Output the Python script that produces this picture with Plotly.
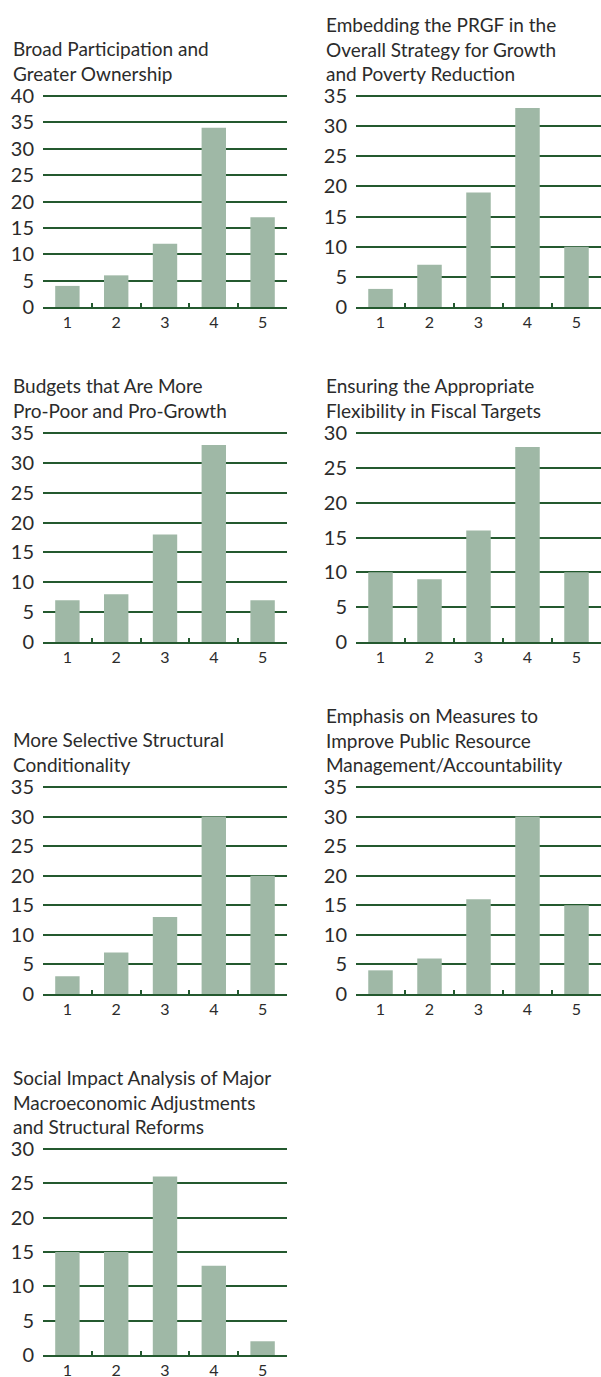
import plotly.graph_objects as go

W, H = 601, 1377

# ---- data ----
categories = ["1", "2", "3", "4", "5"]

titles = [
    ["Broad Participation and", "Greater Ownership"],
    ["Embedding the PRGF in the", "Overall Strategy for Growth", "and Poverty Reduction"],
    ["Budgets that Are More", "Pro-Poor and Pro-Growth"],
    ["Ensuring the Appropriate", "Flexibility in Fiscal Targets"],
    ["More Selective Structural", "Conditionality"],
    ["Emphasis on Measures to", "Improve Public Resource", "Management/Accountability"],
    ["Social Impact Analysis of Major", "Macroeconomic Adjustments", "and Structural Reforms"],
]

broad_participation = [4, 6, 12, 34, 17]
embedding_prgf = [3, 7, 19, 33, 10]
pro_poor_budgets = [7, 8, 18, 33, 7]
fiscal_flexibility = [10, 9, 16, 28, 10]
structural_conditionality = [3, 7, 13, 30, 20]
public_resource_mgmt = [4, 6, 16, 30, 15]
social_impact = [15, 15, 26, 13, 2]

series = [broad_participation, embedding_prgf, pro_poor_budgets, fiscal_flexibility,
          structural_conditionality, public_resource_mgmt, social_impact]
axis_max = [40, 35, 35, 30, 35, 35, 30]

# ---- style / placement (pixels) ----
BAR = "#9fb8a6"
GREEN = "#24592f"
TEXT = "#2b2b2b"
FONT = "Lato"
PAD = 3  # px of headroom so the top gridline is drawn

col_x = [(43, 287), (356, 601)]
row_y = [(96, 307), (433, 642), (787, 994), (1149, 1355)]
title_x = [11, 324]

fig = go.Figure()
layout = {}
annotations = []

for i, vals in enumerate(series):
    r, c = divmod(i, 2)
    n = "" if i == 0 else str(i + 1)
    x0, x1 = col_x[c]
    y0, y1 = row_y[r]
    top = axis_max[i] * (1 + PAD / (y1 - y0))

    fig.add_trace(go.Bar(
        x=categories, y=vals,
        xaxis="x" + n, yaxis="y" + n,
        marker=dict(color=BAR, line=dict(width=0)),
        width=0.5,
        hoverinfo="x+y",
    ))

    layout["xaxis" + n] = dict(
        domain=[x0 / W, x1 / W], anchor="y" + n,
        type="category", range=[-0.5, 4.5],
        tickson="boundaries", ticks="inside", ticklen=4,
        tickwidth=1.5, tickcolor=GREEN,
        showline=True, linecolor=GREEN, linewidth=1.5,
        showgrid=False, zeroline=False, automargin=False,
        tickfont=dict(size=16, color=TEXT),
    )
    layout["yaxis" + n] = dict(
        domain=[1 - y1 / H, 1 - (y0 - PAD) / H], anchor="x" + n,
        range=[0, top], dtick=5, tick0=0,
        showgrid=True, gridcolor=GREEN, gridwidth=1.5,
        zeroline=False, showline=False, ticks="", automargin=False,
        ticklabelstandoff=8,
        tickfont=dict(size=20, color=TEXT),
    )

    annotations.append(dict(
        text="<br>".join(titles[i]),
        x=title_x[c] / W, y=1 - (y0 - 9) / H,
        xref="paper", yref="paper",
        xanchor="left", yanchor="bottom", align="left",
        showarrow=False,
        font=dict(size=19, color=TEXT, family=FONT),
    ))

fig.update_layout(
    width=W, height=H,
    margin=dict(l=0, r=0, t=0, b=0, pad=0),
    paper_bgcolor="white", plot_bgcolor="white",
    showlegend=False,
    font=dict(family=FONT, color=TEXT),
    annotations=annotations,
    **layout,
)

fig.write_html("out.html", config={"displayModeBar": False},
               post_script="document.body.style.margin='0';")
